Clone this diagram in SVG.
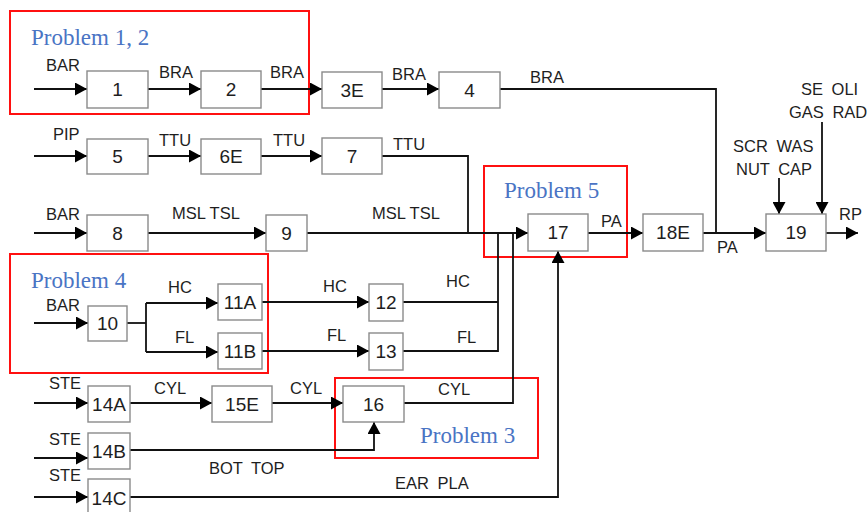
<svg xmlns="http://www.w3.org/2000/svg" width="867" height="512" viewBox="0 0 867 512">
<style>
.node rect{fill:#fff;stroke:#8a8a8a;stroke-width:1.4}
.node text{font-family:"Liberation Sans",Arial,sans-serif;font-size:19px;fill:#1e1e1e;text-anchor:middle}
.lbl{font-family:"Liberation Sans",Arial,sans-serif;font-size:16.5px;fill:#1e1e1e}
.ws{word-spacing:4px}
.prob{fill:none;stroke:#ff1010;stroke-width:2}
.ptxt{font-family:"Liberation Serif","Times New Roman",serif;font-size:23px;fill:#4a74c4}
#connectors path{fill:none;stroke:#111;stroke-width:1.8}
.arr{marker-end:url(#ah)}
</style>
<defs>
<marker id="ah" markerUnits="userSpaceOnUse" markerWidth="13" markerHeight="13" refX="12" refY="6.5" orient="auto">
<path d="M0,0 L12,6.5 L0,13 z" fill="#000"/>
</marker>
</defs>
<rect width="867" height="512" fill="#fff"/>
<g id="problems">
<rect class="prob" x="10" y="11" width="299" height="103"/>
<rect class="prob" x="10" y="254" width="258" height="119"/>
<rect class="prob" x="484" y="166" width="143" height="91"/>
<rect class="prob" x="335" y="378" width="203" height="80"/>
<text class="ptxt" x="31" y="45">Problem 1, 2</text>
<text class="ptxt" x="31" y="288">Problem 4</text>
<text class="ptxt" x="504" y="198">Problem 5</text>
<text class="ptxt" x="420" y="443">Problem 3</text>
</g>
<g id="connectors">
<path class="arr" d="M34,89 H87"/>
<path class="arr" d="M148,89 H201"/>
<path class="arr" d="M261,89 H322"/>
<path class="arr" d="M382,89 H439"/>
<path d="M500,89 H716 V233"/>
<path class="arr" d="M34,156 H87"/>
<path class="arr" d="M148,156 H201"/>
<path class="arr" d="M261,156 H322"/>
<path d="M382,156 H468 V233"/>
<path class="arr" d="M34,233 H87"/>
<path class="arr" d="M148,233 H266"/>
<path class="arr" d="M307,233 H528"/>
<path class="arr" d="M34,323 H88"/>
<path d="M127,323 H146"/>
<path d="M146,303 V352"/>
<path class="arr" d="M146,303 H218"/>
<path class="arr" d="M146,352 H218"/>
<path class="arr" d="M262,302 H369"/>
<path class="arr" d="M262,351 H369"/>
<path d="M403,302 H498"/>
<path d="M403,351 H498 V233"/>
<path class="arr" d="M34,403 H88"/>
<path class="arr" d="M130,403 H212"/>
<path class="arr" d="M272,403 H343"/>
<path d="M404,403 H513 V233"/>
<path class="arr" d="M34,458 H88"/>
<path class="arr" d="M130,450 H374 V422"/>
<path class="arr" d="M34,497 H88"/>
<path class="arr" d="M130,497 H558 V251"/>
<path class="arr" d="M588,233 H643"/>
<path class="arr" d="M703,233 H766"/>
<path class="arr" d="M826,233 H858"/>
<path class="arr" d="M779,178 V214"/>
<path class="arr" d="M822,122 V214"/>
</g>
<g id="labels">
<text class="lbl" x="46" y="71">BAR</text>
<text class="lbl" x="159" y="78">BRA</text>
<text class="lbl" x="270" y="78">BRA</text>
<text class="lbl" x="392" y="80">BRA</text>
<text class="lbl" x="530" y="83">BRA</text>
<text class="lbl" x="53" y="140">PIP</text>
<text class="lbl" x="159" y="146">TTU</text>
<text class="lbl" x="273" y="146">TTU</text>
<text class="lbl" x="393" y="150">TTU</text>
<text class="lbl" x="46" y="220">BAR</text>
<text class="lbl" x="172" y="219">MSL TSL</text>
<text class="lbl" x="372" y="219">MSL TSL</text>
<text class="lbl" x="46" y="311">BAR</text>
<text class="lbl" x="168" y="293">HC</text>
<text class="lbl" x="175" y="343">FL</text>
<text class="lbl" x="323" y="292">HC</text>
<text class="lbl" x="327" y="341">FL</text>
<text class="lbl" x="446" y="287">HC</text>
<text class="lbl" x="457" y="343">FL</text>
<text class="lbl" x="601" y="227">PA</text>
<text class="lbl" x="717" y="253">PA</text>
<text class="lbl" x="839" y="220">RP</text>
<text class="lbl ws" x="733" y="152">SCR WAS</text>
<text class="lbl ws" x="736" y="175">NUT CAP</text>
<text class="lbl ws" x="801" y="95">SE OLI</text>
<text class="lbl ws" x="789" y="118">GAS RAD</text>
<text class="lbl" x="49" y="389">STE</text>
<text class="lbl" x="154" y="394">CYL</text>
<text class="lbl" x="290" y="394">CYL</text>
<text class="lbl" x="438" y="395">CYL</text>
<text class="lbl" x="49" y="445">STE</text>
<text class="lbl ws" x="209" y="474">BOT TOP</text>
<text class="lbl" x="49" y="481">STE</text>
<text class="lbl ws" x="395" y="489">EAR PLA</text>
</g>
<g id="n1" class="node"><rect x="87" y="71" width="61" height="37"/><text x="117.5" y="96">1</text></g>
<g id="n2" class="node"><rect x="201" y="71" width="60" height="37"/><text x="231" y="96">2</text></g>
<g id="n3E" class="node"><rect x="322" y="72" width="60" height="36"/><text x="352" y="97">3E</text></g>
<g id="n4" class="node"><rect x="439" y="72" width="61" height="36"/><text x="469.5" y="97">4</text></g>
<g id="n5" class="node"><rect x="87" y="139" width="61" height="35"/><text x="117.5" y="163">5</text></g>
<g id="n6E" class="node"><rect x="201" y="139" width="60" height="35"/><text x="231" y="163">6E</text></g>
<g id="n7" class="node"><rect x="322" y="138" width="60" height="36"/><text x="352" y="163">7</text></g>
<g id="n8" class="node"><rect x="87" y="215" width="61" height="36"/><text x="117.5" y="240">8</text></g>
<g id="n9" class="node"><rect x="266" y="215" width="41" height="36"/><text x="286.5" y="240">9</text></g>
<g id="n10" class="node"><rect x="88" y="306" width="39" height="35"/><text x="107.5" y="330">10</text></g>
<g id="n11A" class="node"><rect x="218" y="284" width="44" height="36"/><text x="240" y="309">11A</text></g>
<g id="n11B" class="node"><rect x="218" y="333" width="44" height="36"/><text x="240" y="358">11B</text></g>
<g id="n12" class="node"><rect x="369" y="284" width="34" height="37"/><text x="386" y="309">12</text></g>
<g id="n13" class="node"><rect x="369" y="333" width="34" height="37"/><text x="386" y="358">13</text></g>
<g id="n14A" class="node"><rect x="88" y="386" width="42" height="36"/><text x="109" y="411">14A</text></g>
<g id="n14B" class="node"><rect x="88" y="433" width="42" height="36"/><text x="109" y="458">14B</text></g>
<g id="n14C" class="node"><rect x="88" y="479" width="42" height="40"/><text x="109" y="505">14C</text></g>
<g id="n15E" class="node"><rect x="212" y="386" width="60" height="36"/><text x="242" y="411">15E</text></g>
<g id="n16" class="node"><rect x="343" y="386" width="61" height="36"/><text x="373.5" y="411">16</text></g>
<g id="n17" class="node"><rect x="528" y="214" width="60" height="37"/><text x="558" y="239">17</text></g>
<g id="n18E" class="node"><rect x="643" y="214" width="60" height="37"/><text x="673" y="239">18E</text></g>
<g id="n19" class="node"><rect x="766" y="214" width="60" height="37"/><text x="796" y="239">19</text></g>
</svg>
